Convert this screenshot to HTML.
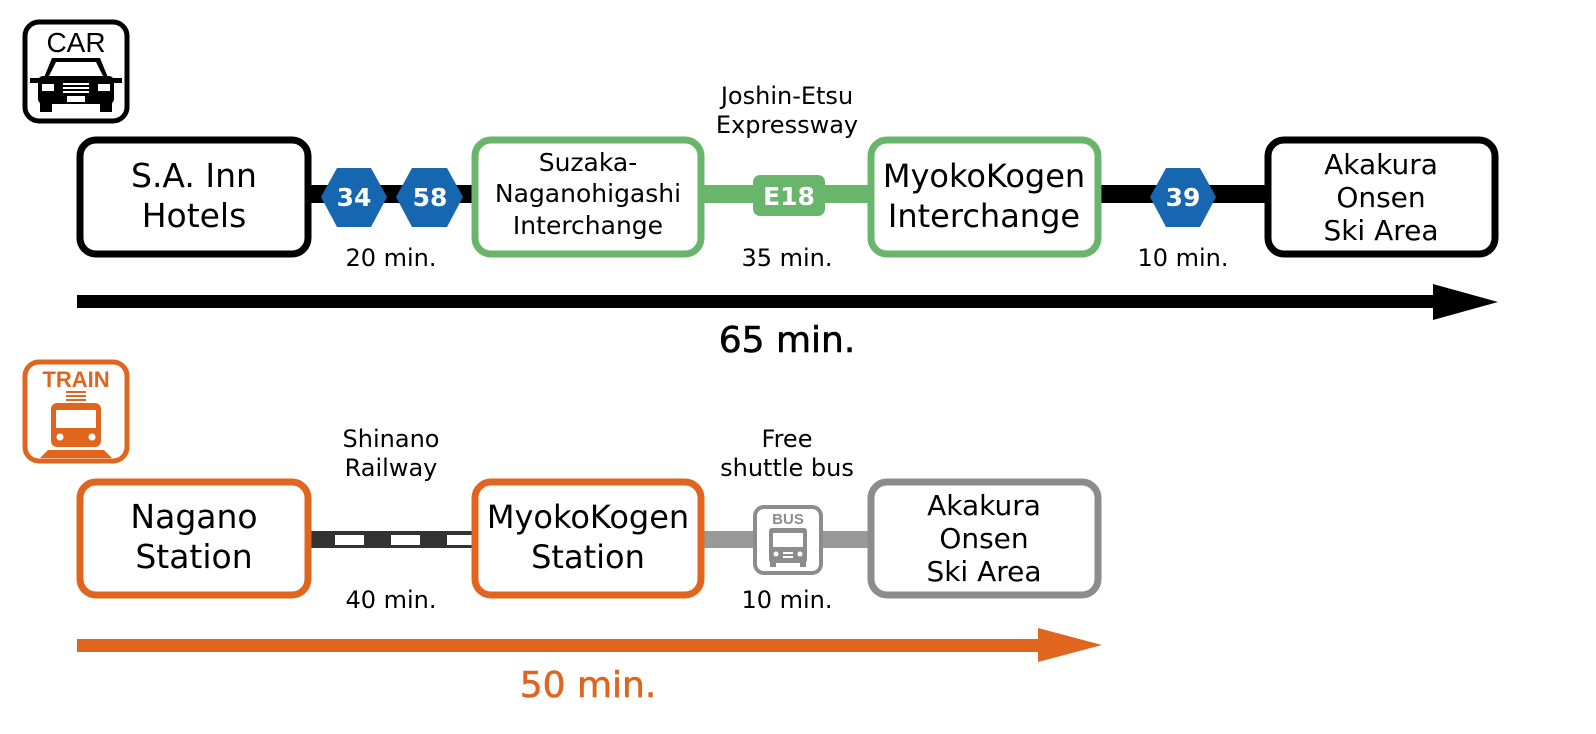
<!DOCTYPE html>
<html><head><meta charset="utf-8"><style>html,body{margin:0;padding:0;background:#fff}svg{display:block}</style></head>
<body>
<svg width="1596" height="734" viewBox="0 0 1596 734" xmlns="http://www.w3.org/2000/svg" font-family="DejaVu Sans, Liberation Sans, sans-serif">
<!-- CAR icon -->
<rect x="25" y="22" width="102" height="99" rx="14" fill="#fff" stroke="#000" stroke-width="5"/>
<text x="76" y="52" font-family="Liberation Sans, sans-serif" font-size="28" text-anchor="middle" fill="#000">CAR</text>
<path d="M52 58 L100 58 L109 80 L43 80 Z" fill="#000"/>
<path d="M56 62 L96 62 L103 76 L49 76 Z" fill="#fff"/>
<rect x="38" y="76" width="76" height="28" rx="5" fill="#000"/>
<rect x="30" y="78" width="10" height="5" fill="#000"/><rect x="112" y="78" width="10" height="5" fill="#000"/>
<rect x="42" y="84" width="12" height="7" fill="#fff"/><rect x="98" y="84" width="12" height="7" fill="#fff"/>
<rect x="63" y="83" width="26" height="2" fill="#fff"/><rect x="63" y="87" width="26" height="2" fill="#fff"/><rect x="63" y="91" width="26" height="2" fill="#fff"/>
<rect x="67" y="96" width="18" height="6" fill="#fff"/>
<rect x="40" y="100" width="12" height="12" fill="#000"/><rect x="100" y="100" width="12" height="12" fill="#000"/>

<!-- car lines -->
<rect x="308" y="185" width="166" height="18" fill="#000"/>
<rect x="702" y="185" width="168" height="18" fill="#6ab56c"/>
<rect x="1098" y="185" width="170" height="18" fill="#000"/>

<!-- car boxes -->
<rect x="80" y="140" width="228" height="114" rx="16" fill="#fff" stroke="#000" stroke-width="7"/>
<text font-size="33" text-anchor="middle" fill="#000"><tspan x="194" y="187">S.A. Inn</tspan><tspan x="194" y="227">Hotels</tspan></text>

<rect x="475" y="140" width="226" height="114" rx="16" fill="#fff" stroke="#6ab56c" stroke-width="7"/>
<text font-size="25" text-anchor="middle" fill="#000"><tspan x="588" y="171">Suzaka-</tspan><tspan x="588" y="202">Naganohigashi</tspan><tspan x="588" y="234">Interchange</tspan></text>

<rect x="871" y="140" width="227" height="114" rx="16" fill="#fff" stroke="#6ab56c" stroke-width="7"/>
<text font-size="32" text-anchor="middle" fill="#000"><tspan x="984" y="187">MyokoKogen</tspan><tspan x="984" y="227">Interchange</tspan></text>

<rect x="1268" y="140" width="227" height="114" rx="16" fill="#fff" stroke="#000" stroke-width="7"/>
<text font-size="28" text-anchor="middle" fill="#000"><tspan x="1381" y="174">Akakura</tspan><tspan x="1381" y="207">Onsen</tspan><tspan x="1381" y="240">Ski Area</tspan></text>

<!-- hexagons -->
<polygon points="321,197 337,168 371,168 387,197 371,227 337,227" fill="#1666b0"/>
<text x="354" y="206" font-size="25" font-weight="bold" text-anchor="middle" fill="#fff">34</text>
<polygon points="396,197 412,168 447,168 463,197 447,227 412,227" fill="#1666b0"/>
<text x="430" y="206" font-size="25" font-weight="bold" text-anchor="middle" fill="#fff">58</text>
<polygon points="1150,197 1166,168 1200,168 1216,197 1200,227 1166,227" fill="#1666b0"/>
<text x="1183" y="206" font-size="25" font-weight="bold" text-anchor="middle" fill="#fff">39</text>

<rect x="753" y="175" width="72" height="41" rx="7" fill="#6ab56c"/>
<text x="789" y="205" font-size="25" font-weight="bold" text-anchor="middle" fill="#fff">E18</text>

<text font-size="24" text-anchor="middle" fill="#000"><tspan x="787" y="104">Joshin-Etsu</tspan><tspan x="787" y="133">Expressway</tspan></text>
<text x="391" y="266" font-size="24" text-anchor="middle" fill="#000">20 min.</text>
<text x="787" y="266" font-size="24" text-anchor="middle" fill="#000">35 min.</text>
<text x="1183" y="266" font-size="24" text-anchor="middle" fill="#000">10 min.</text>

<!-- black arrow -->
<rect x="77" y="295" width="1360" height="13" fill="#000"/>
<polygon points="1433,284 1498,302 1433,320" fill="#000"/>
<text x="787" y="352" font-size="36" text-anchor="middle" fill="#000" stroke="#000" stroke-width="0.6">65 min.</text>

<!-- TRAIN icon -->
<rect x="25" y="362" width="102" height="99" rx="14" fill="#fff" stroke="#e06620" stroke-width="5"/>
<text x="76" y="387" font-family="Liberation Sans, sans-serif" font-size="22" font-weight="bold" text-anchor="middle" fill="#e06620">TRAIN</text>
<rect x="66" y="391" width="20" height="2" fill="#e06620"/><rect x="66" y="395" width="20" height="2" fill="#e06620"/><rect x="66" y="399" width="20" height="2" fill="#e06620"/>
<rect x="51" y="403" width="50" height="44" rx="6" fill="#e06620"/>
<rect x="56" y="410" width="40" height="18" fill="#fff"/>
<circle cx="60" cy="437" r="3.5" fill="#fff"/><circle cx="92" cy="437" r="3.5" fill="#fff"/>
<path d="M48 450 L104 450 L112 458 L40 458 Z" fill="#e06620"/>

<!-- train lines -->
<rect x="308" y="531" width="166" height="17" fill="#333"/>
<rect x="335" y="535" width="29" height="10" fill="#fff"/>
<rect x="391" y="535" width="29" height="10" fill="#fff"/>
<rect x="447" y="535" width="27" height="10" fill="#fff"/>
<rect x="702" y="531" width="168" height="17" fill="#999"/>

<rect x="80" y="482" width="228" height="113" rx="16" fill="#fff" stroke="#e06620" stroke-width="7"/>
<text font-size="33" text-anchor="middle" fill="#000"><tspan x="194" y="528">Nagano</tspan><tspan x="194" y="568">Station</tspan></text>

<rect x="475" y="482" width="226" height="113" rx="16" fill="#fff" stroke="#e06620" stroke-width="7"/>
<text font-size="32" text-anchor="middle" fill="#000"><tspan x="588" y="528">MyokoKogen</tspan><tspan x="588" y="568">Station</tspan></text>

<rect x="871" y="482" width="227" height="113" rx="16" fill="#fff" stroke="#8c8c8c" stroke-width="7"/>
<text font-size="28" text-anchor="middle" fill="#000"><tspan x="984" y="515">Akakura</tspan><tspan x="984" y="548">Onsen</tspan><tspan x="984" y="581">Ski Area</tspan></text>

<!-- bus icon -->
<rect x="755" y="507" width="66" height="66" rx="9" fill="#fff" stroke="#8c8c8c" stroke-width="4"/>
<text x="788" y="524" font-family="Liberation Sans, sans-serif" font-size="15" font-weight="bold" text-anchor="middle" fill="#8c8c8c">BUS</text>
<rect x="769" y="528" width="38" height="35" rx="3" fill="#8c8c8c"/>
<rect x="773" y="533" width="30" height="14" fill="#fff"/>
<circle cx="776" cy="554" r="2.5" fill="#fff"/><circle cx="800" cy="554" r="2.5" fill="#fff"/>
<rect x="783" y="552" width="10" height="2" fill="#fff"/><rect x="783" y="556" width="10" height="2" fill="#fff"/>
<rect x="770" y="562" width="6" height="5" fill="#8c8c8c"/><rect x="800" y="562" width="6" height="5" fill="#8c8c8c"/>

<text font-size="24" text-anchor="middle" fill="#000"><tspan x="391" y="447">Shinano</tspan><tspan x="391" y="476">Railway</tspan></text>
<text font-size="24" text-anchor="middle" fill="#000"><tspan x="787" y="447">Free</tspan><tspan x="787" y="476">shuttle bus</tspan></text>
<text x="391" y="608" font-size="24" text-anchor="middle" fill="#000">40 min.</text>
<text x="787" y="608" font-size="24" text-anchor="middle" fill="#000">10 min.</text>

<!-- orange arrow -->
<rect x="77" y="639" width="965" height="13" fill="#e06620"/>
<polygon points="1038,628 1102,645 1038,662" fill="#e06620"/>
<text x="588" y="697" font-size="36" text-anchor="middle" fill="#e06620" stroke="#e06620" stroke-width="0.6">50 min.</text>
</svg>
</body></html>
